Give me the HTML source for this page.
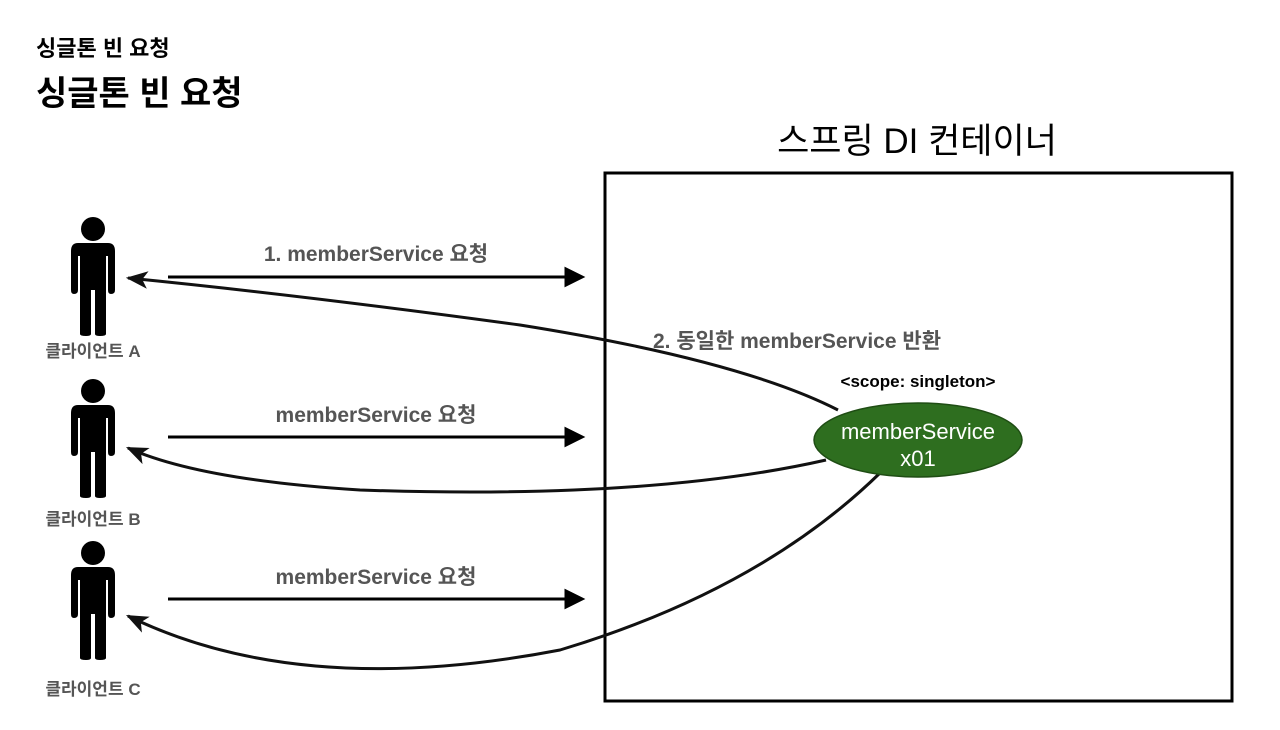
<!DOCTYPE html>
<html><head><meta charset="utf-8"><style>
body{margin:0;width:1280px;height:725px;background:#fff;overflow:hidden}
text{font-family:"Liberation Sans","Noto Sans CJK KR",sans-serif}
</style></head><body>
<svg width="1280" height="725" viewBox="0 0 1280 725" xmlns="http://www.w3.org/2000/svg">
<defs>
<g id="p">
<circle cx="93" cy="229" r="12" fill="#000"/>
<path d="M78 243 H108 Q115 243 115 251 V290 Q115 294 111 294 Q108 294 108 290 V256 H106 V334 Q106 336 100 336 Q95 336 95 334 V290 H91 V334 Q91 336 86 336 Q80 336 80 334 V256 H78 V290 Q78 294 74 294 Q71 294 71 290 V251 Q71 243 78 243Z" fill="#000"/>
</g>
<marker id="ah2" viewBox="0 0 20 20" markerWidth="22" markerHeight="22" refX="18" refY="10" orient="auto" markerUnits="userSpaceOnUse"><path d="M0 2 L20 10 L0 18 L5 10Z" fill="#111"/></marker>
</defs>
<text x="36" y="56" font-size="22" font-weight="bold">싱글톤 빈 요청</text>
<text x="36" y="105" font-size="34" font-weight="bold">싱글톤 빈 요청</text>
<text x="917" y="153" font-size="35" text-anchor="middle">스프링 DI 컨테이너</text>
<rect x="605" y="173" width="627" height="528" fill="none" stroke="#000" stroke-width="3"/>
<use href="#p"/>
<use href="#p" y="162"/>
<use href="#p" y="324"/>
<g font-size="17" font-weight="bold" fill="#555" text-anchor="middle">
<text x="93" y="357">클라이언트 A</text>
<text x="93" y="525">클라이언트 B</text>
<text x="93" y="695">클라이언트 C</text>
</g>
<g stroke="#000" stroke-width="3" fill="#000">
<line x1="168" y1="277" x2="568" y2="277"/><path d="M582 277 L566 269 L566 285Z"/>
<line x1="168" y1="437" x2="568" y2="437"/><path d="M582 437 L566 429 L566 445Z"/>
<line x1="168" y1="599" x2="568" y2="599"/><path d="M582 599 L566 591 L566 607Z"/>
</g>
<g font-size="21" font-weight="bold" fill="#555" text-anchor="middle">
<text x="376" y="261">1. memberService 요청</text>
<text x="376" y="422">memberService 요청</text>
<text x="376" y="584">memberService 요청</text>
<text x="797" y="348">2. 동일한 memberService 반환</text>
</g>
<g fill="none" stroke="#111" stroke-width="3" marker-end="url(#ah2)">
<path d="M838 410 Q740 360 520 325 Q300 295 128 278"/>
<path d="M826 460 Q650 500 360 490 Q200 480 128 448"/>
<path d="M880 473 Q760 590 560 650 Q300 700 128 616"/>
</g>
<text x="918" y="387" font-size="17" font-weight="bold" text-anchor="middle">&lt;scope: singleton&gt;</text>
<ellipse cx="918" cy="440" rx="104" ry="37" fill="#2e6e1f" stroke="#1f4d14" stroke-width="1.5"/>
<text x="918" y="439" font-size="22" fill="#fff" text-anchor="middle">memberService</text>
<text x="918" y="466" font-size="22" fill="#fff" text-anchor="middle">x01</text>
</svg>
</body></html>
